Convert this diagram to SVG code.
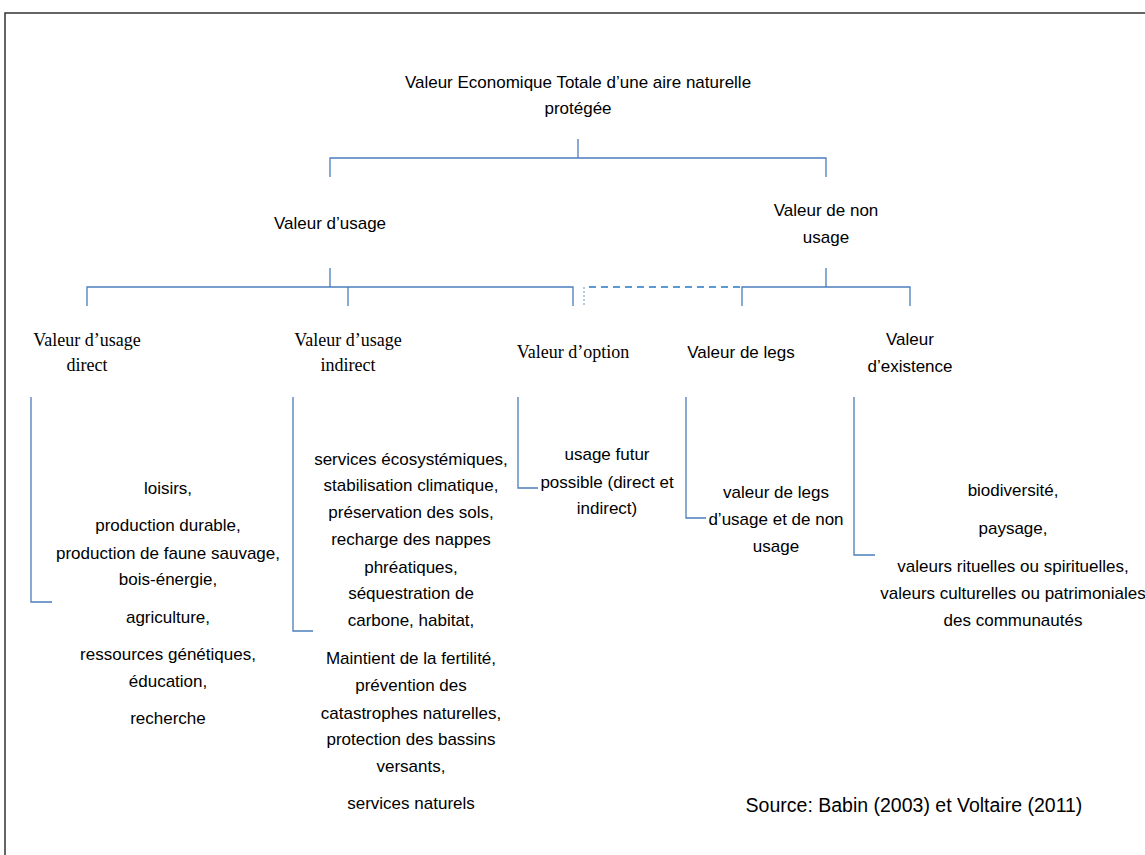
<svg xmlns="http://www.w3.org/2000/svg" width="1145" height="855" viewBox="0 0 1145 855">
<style>
.s{font-family:"Liberation Sans",Arial,sans-serif;font-size:17px;fill:#000;text-anchor:middle}
.t{font-family:"Liberation Serif","Times New Roman",serif;font-size:18px;fill:#000;text-anchor:middle}
.c{fill:none;stroke:#4a7ebb;stroke-width:1.3}
.d{fill:none;stroke:#5b9bd5;stroke-width:2;stroke-dasharray:7 5}
.dv{fill:none;stroke:#5b9bd5;stroke-width:1;stroke-dasharray:2 2}
</style>
<rect x="0" y="0" width="1145" height="855" fill="#fff"/>
<rect x="5" y="13" width="1160" height="860" fill="none" stroke="#333" stroke-width="1.5"/>
<g id="connectors">
<path class="c" d="M578 139V158M330 177V158H826V177"/>
<path class="c" d="M330 268V287M87 306V287H573V306M348 287V306"/>
<path class="c" d="M826 268V287M742 306V287H910V306"/>
<path class="dv" d="M584 287V306"/>
<path class="d" d="M589 287H740"/>
<path class="c" d="M31 397V602H52"/>
<path class="c" d="M293 397V631H313"/>
<path class="c" d="M518 397V488H538"/>
<path class="c" d="M686 397V518H706"/>
<path class="c" d="M854 397V555H875"/>
</g>
<g id="root">
<text class="s" x="578" y="88">Valeur Economique Totale d’une aire naturelle</text>
<text class="s" x="578" y="114">protégée</text>
</g>
<g id="usage"><text class="s" x="330" y="229">Valeur d’usage</text></g>
<g id="non-usage">
<text class="s" x="826" y="216">Valeur de non</text>
<text class="s" x="826" y="243">usage</text>
</g>
<g id="direct">
<text class="t" x="87" y="346">Valeur d’usage</text>
<text class="t" x="87" y="371">direct</text>
</g>
<g id="indirect">
<text class="t" x="348" y="346">Valeur d’usage</text>
<text class="t" x="348" y="371">indirect</text>
</g>
<g id="option"><text class="t" x="573" y="358">Valeur d’option</text></g>
<g id="legs"><text class="s" x="741" y="358">Valeur de legs</text></g>
<g id="existence">
<text class="s" x="910" y="345">Valeur</text>
<text class="s" x="910" y="372">d’existence</text>
</g>
<g id="leaf-direct">
<text class="s" x="168" y="494">loisirs,</text>
<text class="s" x="168" y="531">production durable,</text>
<text class="s" x="168" y="559">production de faune sauvage,</text>
<text class="s" x="168" y="585">bois-énergie,</text>
<text class="s" x="168" y="623">agriculture,</text>
<text class="s" x="168" y="660">ressources génétiques,</text>
<text class="s" x="168" y="687">éducation,</text>
<text class="s" x="168" y="724">recherche</text>
</g>
<g id="leaf-indirect">
<text class="s" x="411" y="465">services écosystémiques,</text>
<text class="s" x="411" y="491">stabilisation climatique,</text>
<text class="s" x="411" y="518">préservation des sols,</text>
<text class="s" x="411" y="545">recharge des nappes</text>
<text class="s" x="411" y="573">phréatiques,</text>
<text class="s" x="411" y="599">séquestration de</text>
<text class="s" x="411" y="626">carbone, habitat,</text>
<text class="s" x="411" y="664">Maintient de la fertilité,</text>
<text class="s" x="411" y="691">prévention des</text>
<text class="s" x="411" y="719">catastrophes naturelles,</text>
<text class="s" x="411" y="745">protection des bassins</text>
<text class="s" x="411" y="772">versants,</text>
<text class="s" x="411" y="809">services naturels</text>
</g>
<g id="leaf-option">
<text class="s" x="607" y="460">usage futur</text>
<text class="s" x="607" y="488">possible (direct et</text>
<text class="s" x="607" y="514">indirect)</text>
</g>
<g id="leaf-legs">
<text class="s" x="776" y="498">valeur de legs</text>
<text class="s" x="776" y="525">d’usage et de non</text>
<text class="s" x="776" y="552">usage</text>
</g>
<g id="leaf-existence">
<text class="s" x="1013" y="496">biodiversité,</text>
<text class="s" x="1013" y="534">paysage,</text>
<text class="s" x="1013" y="572">valeurs rituelles ou spirituelles,</text>
<text class="s" x="1013" y="599">valeurs culturelles ou patrimoniales</text>
<text class="s" x="1013" y="626">des communautés</text>
</g>
<g id="source"><text class="s" x="914" y="812" style="font-size:19.5px">Source: Babin (2003) et Voltaire (2011)</text></g>
</svg>
